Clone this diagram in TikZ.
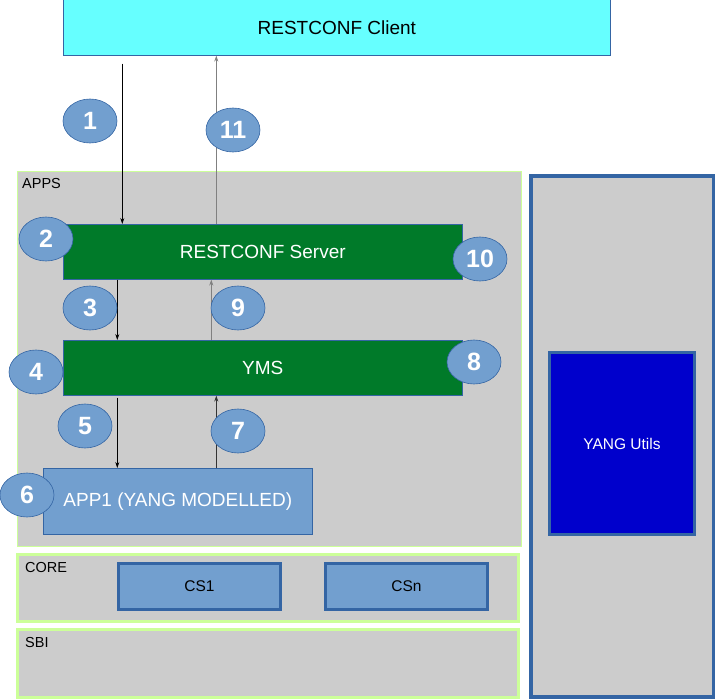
\documentclass[tikz,border=0pt]{standalone}
\usepackage{fontspec}
\setmainfont{Liberation Sans}
\usetikzlibrary{arrows.meta, positioning, shapes.geometric, calc}

\definecolor{clientcyan}{RGB}{102,255,255}
\definecolor{layergray}{RGB}{204,204,204}
\definecolor{layergreen}{RGB}{204,255,153}
\definecolor{servergreen}{RGB}{0,122,41}
\definecolor{steplight}{RGB}{114,159,207}
\definecolor{stepdark}{RGB}{52,101,164}
\definecolor{utilsblue}{RGB}{0,0,204}

\begin{document}
\begin{tikzpicture}[
    x=1pt, y=-1pt,
    layer/.style={rectangle, draw=layergreen, fill=layergray, anchor=north west, inner sep=0pt},
    label/.style={anchor=north west, inner sep=0pt, font=\fontsize{14.5}{16}\selectfont},
    box/.style={rectangle, draw=stepdark, line width=0.6pt, inner sep=0pt, font=\fontsize{19}{21}\selectfont},
    module/.style={rectangle, draw=stepdark, fill=steplight, line width=3pt, inner sep=0pt, font=\fontsize{15.5}{17}\selectfont},
    stepnum/.style={ellipse, draw=stepdark, fill=steplight, line width=0.6pt, minimum width=54pt, minimum height=44pt, inner sep=0pt, text=white, font=\fontsize{25}{27}\selectfont\bfseries},
    arrow/.style={-{Stealth[length=6pt, width=4pt]}, line width=0.7pt},
    retarrow/.style={-{Stealth[length=6pt, width=4pt]}, line width=1.3pt, draw=black!50, fill=black}
]
    \useasboundingbox (0,0) rectangle (715,699);

    % Layers
    \node[layer, line width=1.2pt, minimum width=504pt, minimum height=375pt] (apps) at (16.5,171) {};
    \node[label] at (22,178) {APPS};
    \node[layer, line width=3pt, minimum width=501pt, minimum height=67pt] (core) at (16,553) {};
    \node[label] at (25,562) {CORE};
    \node[layer, line width=3pt, minimum width=501pt, minimum height=68pt] (sbi) at (16,628) {};
    \node[label] at (25,637) {SBI};
    \node[layer, draw=stepdark, line width=4pt, minimum width=183pt, minimum height=521pt] (yang) at (529,174) {};

    % Nodes
    \node[box, fill=clientcyan, minimum width=547pt, minimum height=56pt, anchor=north west] (client) at (63,-1) {RESTCONF Client};
    \node[box, fill=servergreen, text=white, minimum width=399pt, minimum height=55pt, anchor=north west] (server) at (63,224) {RESTCONF Server};
    \node[box, fill=servergreen, text=white, minimum width=399pt, minimum height=55pt, anchor=north west] (yms) at (63,340) {YMS};
    \node[box, fill=steplight, text=white, minimum width=269pt, minimum height=66pt, anchor=north west] (app1) at (43,468) {\raisebox{-3pt}{APP1 (YANG MODELLED)}};
    \node[module, minimum width=162pt, minimum height=46pt, anchor=north west] (cs1) at (117,562) {CS1};
    \node[module, minimum width=162pt, minimum height=46pt, anchor=north west] (csn) at (324,562) {CSn};
    \node[module, fill=utilsblue, text=white, minimum width=145pt, minimum height=182pt, anchor=north west] (utils) at (548,351) {YANG Utils};

    % Arrows
    \draw[arrow, shorten <=8pt] ([xshift=-214.5pt]client.south) -- ([xshift=-140.5pt]server.north);
    \draw[retarrow] ([xshift=-46.5pt]server.north) -- ([xshift=-120.5pt]client.south);
    \draw[arrow] ([xshift=-145.5pt]server.south) -- ([xshift=-145.5pt]yms.north);
    \draw[retarrow] ([xshift=-51.5pt]yms.north) -- ([xshift=-51.5pt]server.south);
    \draw[arrow, shorten <=2pt] ([xshift=-145.5pt]yms.south) -- ([xshift=-60.5pt]app1.north);
    \draw[retarrow, draw=black!80, line width=1.6pt] ([xshift=38.5pt]app1.north) -- ([xshift=-46.5pt]yms.south);

    % Step numbers
    \node[stepnum] (s1) at (90,121) {1};
    \node[stepnum] (s2) at (46,239) {2};
    \node[stepnum] (s3) at (90,308) {3};
    \node[stepnum] (s4) at (36,372) {4};
    \node[stepnum] (s5) at (85,426) {5};
    \node[stepnum] (s6) at (27,495) {6};
    \node[stepnum] (s7) at (238,431) {7};
    \node[stepnum] (s8) at (474,362) {8};
    \node[stepnum] (s9) at (238,308) {9};
    \node[stepnum] (s10) at (480,259) {10};
    \node[stepnum] (s11) at (233,130) {11};
\end{tikzpicture}
\end{document}
